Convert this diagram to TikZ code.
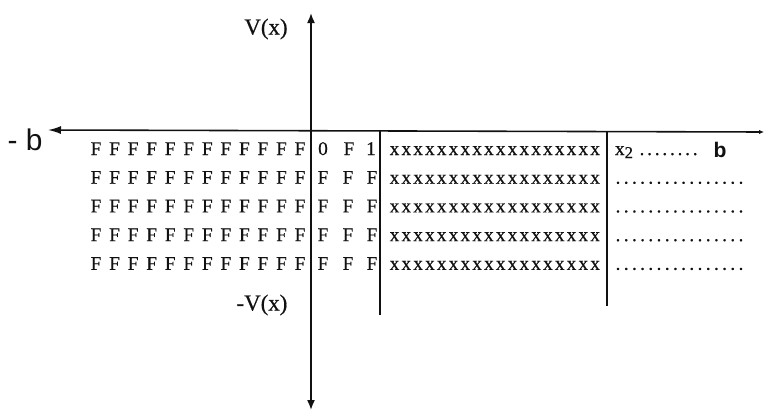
\documentclass[tikz,border=0pt]{standalone}
\usepackage{fontspec}
\usepackage{tikz}
\usepackage{xcolor}
\usetikzlibrary{arrows.meta}
\setmainfont{Liberation Serif}
\newfontfamily\scanserif{Liberation Serif}[FakeBold=0.5]
\newfontfamily\labelsans{Liberation Sans}
\definecolor{ink}{HTML}{111111}

\begin{document}
\begin{tikzpicture}[x=0.02cm, y=-0.02cm,
            axis/.style={draw=ink, line width=0.9pt},
            sep/.style={draw=ink, line width=0.7pt},
            glyph/.style={anchor=base, inner sep=0pt, text=ink, font=\scanserif\fontsize{11}{13}\selectfont},
            axlabel/.style={inner sep=0pt, text=ink, font=\scanserif\fontsize{13}{15}\selectfont}]
            \useasboundingbox (0,0) rectangle (765,414);
            \coordinate (vtop) at (311,13);
            \coordinate (vbot) at (311,410);
            \coordinate (hleft) at (48,130);
            \coordinate (hright) at (764,132);
            \coordinate (s1top) at (380,131);
            \coordinate (s1bot) at (380,315);
            \coordinate (s2top) at (607,132);
            \coordinate (s2bot) at (607,306);
            \draw[axis, {Latex[length=2mm, width=1.6mm]}-{Latex[length=2mm, width=1.6mm]}] (vbot) -- (vtop);
            \draw[axis, {Latex[length=2.6mm, width=1.6mm]}-{Latex[length=1mm, width=0.9mm]}] (hleft) -- (hright);
            \draw[sep] (s1top) -- (s1bot);
            \draw[sep] (s2top) -- (s2bot);
            \node[axlabel] (vpos) at (266,29) {V(x)};
            \node[axlabel] (vneg) at (262,305) {-V(x)};
            \node[inner sep=0pt, text=ink, font=\labelsans\fontsize{17}{19}\selectfont] (mb) at (25,140) {- b};
            \foreach \r in {1,...,5} {
                \pgfmathsetmacro{\by}{155+28.7*(\r-1)}
                \foreach \c in {0,...,11} {
                    \node[glyph] (f\r-\c) at ({96+18.55*\c},\by) {F};
                }
                \foreach \c in {0,...,17} {
                    \node[glyph] (x\r-\c) at ({394.5+11.8*\c},\by) {x};
                }
            }
            \node[glyph] (m1a) at (323,155) {0};
            \node[glyph] (m1b) at (349,155) {F};
            \node[glyph] (m1c) at (371,155) {1};
            \foreach \r in {2,...,5} {
                \pgfmathsetmacro{\by}{155+28.7*(\r-1)}
                \node[glyph] (m\r a) at (323,\by) {F};
                \node[glyph] (m\r b) at (348,\by) {F};
                \node[glyph] (m\r c) at (372,\by) {F};
                \foreach \c in {0,...,15} {
                    \node[glyph] (d\r-\c) at ({618+8.2*\c},\by) {.};
                }
            }
            \node[glyph] (xtwo) at (624,155) {x\raisebox{-0.35ex}{\fontsize{9.5}{11}\selectfont 2}};
            \foreach \c in {0,...,7} {
                \node[glyph] (d1-\c) at ({642+7.6*\c},155) {.};
            }
            \node[anchor=base, inner sep=0pt, text=ink, font=\labelsans\bfseries\fontsize{12}{14}\selectfont] (pb) at (720,157) {b};
        \end{tikzpicture}
\end{document}
